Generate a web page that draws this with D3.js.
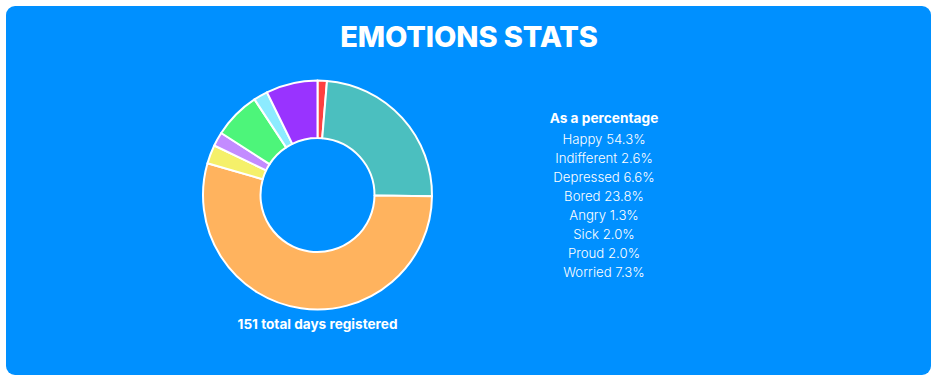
<!DOCTYPE html>
<html>
<head>
<meta charset="utf-8">
<script src="https://cdn.jsdelivr.net/npm/d3@7"></script>
<style>
  html, body { margin: 0; padding: 0; background: #ffffff; }
  svg { display: block; }
</style>
</head>
<body>
<svg id="chart" width="940" height="380"></svg>
<script>
// Data (legend order)
const emotions = ["Happy", "Indifferent", "Depressed", "Bored", "Angry", "Sick", "Proud", "Worried"];
const days =     [82,       4,             10,          36,      2,       3,      3,       11];
const colors =   ["#FFB35E", "#F5F06A", "#4DF57A", "#4BBFBF", "#FF4040", "#C38BFF", "#8CEBFF", "#9933FF"];
// Order of slices in the doughnut, clockwise from 12 o'clock
const sliceOrder = ["Angry", "Bored", "Happy", "Indifferent", "Sick", "Depressed", "Proud", "Worried"];

const title = "EMOTIONS STATS";
const legendTitle = "As a percentage";

const svg = d3.select("#chart");
const font = "Inter, 'Open Sans', sans-serif";

// Card
svg.append("rect")
  .attr("x", 6).attr("y", 6).attr("width", 925).attr("height", 369)
  .attr("rx", 9).attr("ry", 9)
  .attr("fill", "#0090FF");

svg.append("text")
  .attr("x", 469).attr("y", 47)
  .attr("text-anchor", "middle")
  .attr("font-family", font).attr("font-weight", 800)
  .attr("font-size", 29).attr("fill", "#ffffff")
  .attr("letter-spacing", -0.1)
  .text(title);

const total = d3.sum(days);
const byName = new Map(emotions.map((e, i) => [e, { name: e, value: days[i], color: colors[i] }]));
const pieData = sliceOrder.map(n => byName.get(n));

const cx = 317.5, cy = 195, outerR = 114.5, innerR = 57;
const pie = d3.pie().value(d => d.value).sort(null);
const arc = d3.arc().innerRadius(innerR).outerRadius(outerR);

const g = svg.append("g").attr("transform", `translate(${cx},${cy})`);
g.selectAll("path")
  .data(pie(pieData))
  .join("path")
  .attr("d", arc)
  .attr("fill", d => d.data.color)
  .attr("stroke", "#ffffff")
  .attr("stroke-width", 2)
  .attr("stroke-linejoin", "round");

svg.append("text")
  .attr("x", cx).attr("y", 329)
  .attr("text-anchor", "middle")
  .attr("font-family", font).attr("font-weight", 700)
  .attr("font-size", 13.6).attr("fill", "#ffffff")
  .text(`${total} total days registered`);

// Legend
const lx = 604;
svg.append("text")
  .attr("x", lx).attr("y", 123)
  .attr("text-anchor", "middle")
  .attr("font-family", font).attr("font-weight", 700)
  .attr("font-size", 13.7).attr("fill", "#ffffff")
  .text(legendTitle);

const fmt = d3.format(".1f");
const yL = d3.scalePoint().domain(emotions).range([144, 277]);
svg.append("g").selectAll("text")
  .data(emotions)
  .join("text")
  .attr("x", lx)
  .attr("y", d => yL(d))
  .attr("text-anchor", "middle")
  .attr("font-family", font).attr("font-weight", 300)
  .attr("font-size", 13.2).attr("fill", "#ffffff")
  .text((d, i) => `${d} ${fmt(days[i] / total * 100)}%`);
</script>
</body>
</html>
